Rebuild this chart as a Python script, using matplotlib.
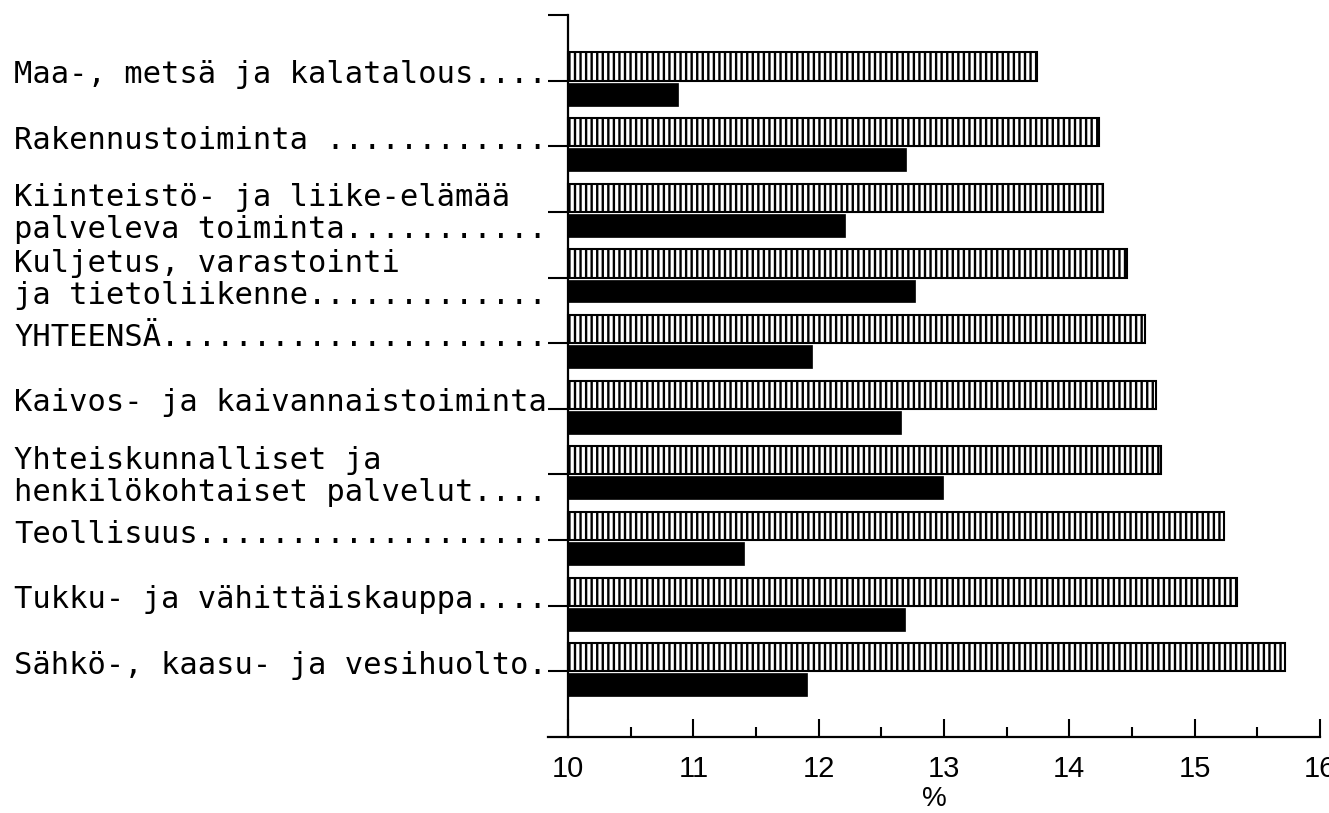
import matplotlib
matplotlib.use("Agg")
import matplotlib.pyplot as plt
from matplotlib import font_manager
from matplotlib.transforms import blended_transform_factory
from matplotlib.ticker import FixedLocator

plt.rcParams["hatch.linewidth"] = 1.7
plt.rcParams["hatch.color"] = "black"

categories = [
    "Maa-, metsä ja kalatalous....",
    "Rakennustoiminta ............",
    "Kiinteistö- ja liike-elämää\npalveleva toiminta...........",
    "Kuljetus, varastointi\nja tietoliikenne.............",
    "YHTEENSÄ.....................",
    "Kaivos- ja kaivannaistoiminta",
    "Yhteiskunnalliset ja\nhenkilökohtaiset palvelut....",
    "Teollisuus...................",
    "Tukku- ja vähittäiskauppa....",
    "Sähkö-, kaasu- ja vesihuolto.",
]
series_hatched = [13.74, 14.24, 14.27, 14.46, 14.60, 14.69, 14.73, 15.23, 15.34, 15.72]
series_black = [10.88, 12.70, 12.21, 12.77, 11.95, 12.66, 12.99, 11.40, 12.69, 11.91]
x_major = [10, 11, 12, 13, 14, 15, 16]
x_minor = [10.5, 11.5, 12.5, 13.5, 14.5, 15.5]
x_label = "%"
base = 10

installed = {f.name for f in font_manager.fontManager.ttflist}
num_family = [f for f in ["Liberation Sans Narrow", "Liberation Sans", "DejaVu Sans"] if f in installed] or ["DejaVu Sans"]

W, H = 1329, 813
fig = plt.figure(figsize=(W / 100, H / 100), dpi=100)
ax = fig.add_axes([548 / W, 76 / H, (1320 - 548) / W, (737 - 15) / H])

pos = list(range(1, len(categories) + 1))
hatch_h = 0.43
black_h = 0.35
ax.barh([p - hatch_h for p in pos], [v - base for v in series_hatched],
        height=hatch_h, left=base, align="edge", facecolor="white",
        edgecolor="black", hatch="|||", linewidth=1.5, zorder=2)
ax.barh([p + 0.03 for p in pos], [v - base for v in series_black],
        height=black_h, left=base, align="edge", facecolor="black",
        edgecolor="black", linewidth=0.5, zorder=2)

ax.set_xlim(9.84, 16.0)
ax.set_ylim(len(categories) + 1, 0)

for s in ("top", "right"):
    ax.spines[s].set_visible(False)
ax.spines["left"].set_position(("data", base))
ax.spines["left"].set_linewidth(1.6)
ax.spines["bottom"].set_linewidth(1.6)

ax.set_yticks([0] + pos)
ax.set_yticklabels([])
ax.tick_params(axis="y", direction="out", length=14.5, width=1.5)

ax.xaxis.set_major_locator(FixedLocator(x_major))
ax.xaxis.set_minor_locator(FixedLocator(x_minor))
ax.set_xticklabels([str(v) for v in x_major])
ax.tick_params(axis="x", which="major", direction="in", length=13, width=1.5,
               pad=13, labelsize=21)
ax.tick_params(axis="x", which="minor", direction="in", length=7, width=1.5)
for lab in ax.get_xticklabels():
    lab.set_family(num_family)

ax.set_xlabel(x_label, fontsize=20, labelpad=2, family=num_family)

trans = blended_transform_factory(fig.transFigure, ax.transData)
for p, lab in zip(pos, categories):
    nlines = lab.count("\n") + 1
    if nlines == 1:
        ax.text(14 / W, p + 0.04, lab, transform=trans, ha="left", va="baseline",
                fontsize=22, family=["DejaVu Sans Mono"], clip_on=False)
    else:
        ax.text(14 / W, p + 0.03, lab, transform=trans, ha="left", va="center",
                fontsize=22, family=["DejaVu Sans Mono"], linespacing=1.12,
                clip_on=False)

fig.savefig("out.png", dpi=100)
